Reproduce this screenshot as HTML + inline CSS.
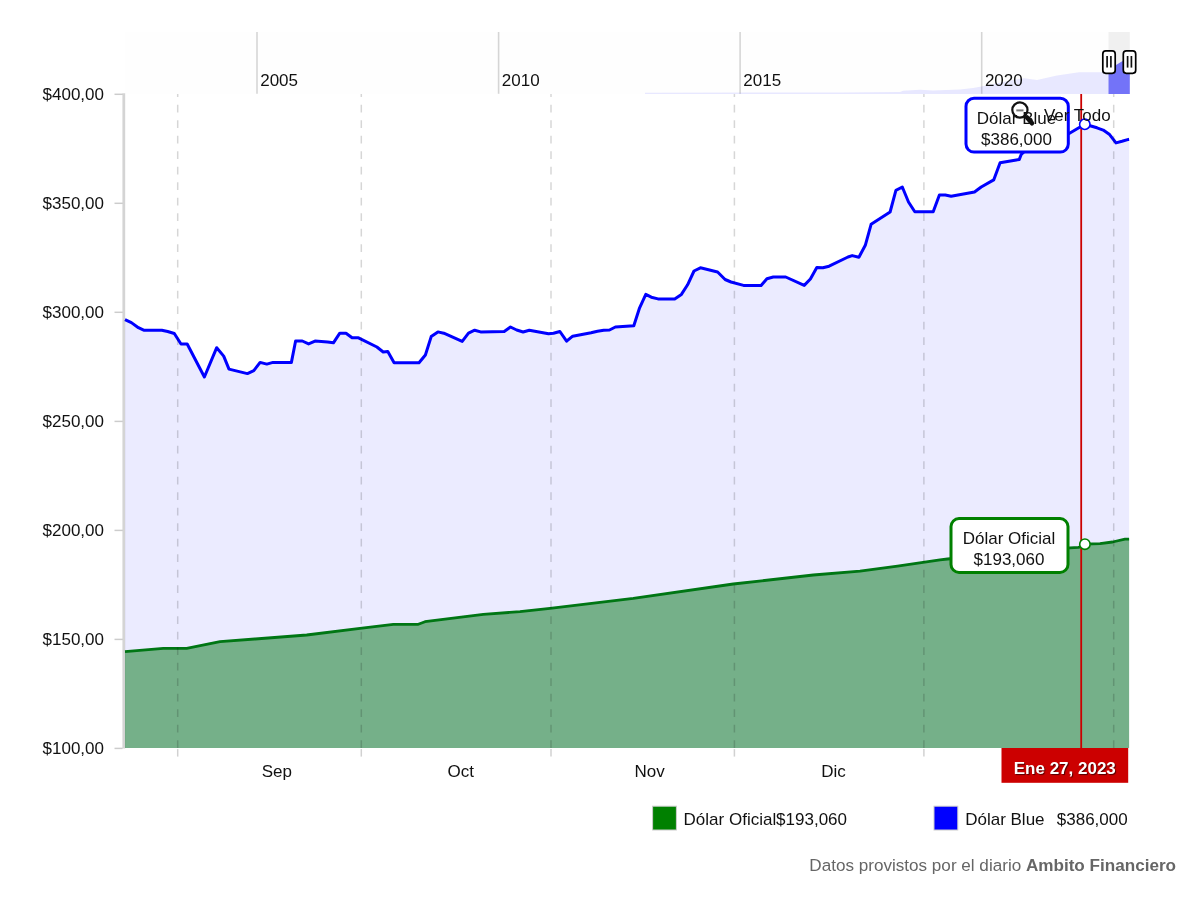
<!DOCTYPE html>
<html><head><meta charset="utf-8"><title>Dólar</title>
<style>
html,body{margin:0;padding:0;background:#fff;}
body{width:1200px;height:897px;overflow:hidden;font-family:"Liberation Sans",sans-serif;}
svg{display:block;position:absolute;left:0;top:0;filter:blur(0.45px);}
svg text{font-family:"Liberation Sans",sans-serif;font-size:17px;fill:#111;}
</style></head><body>
<svg width="1200" height="897" viewBox="0 0 1200 897">
<rect x="0" y="0" width="1200" height="897" fill="#fff"/>
<!-- scrollbar -->
<rect x="125" y="32" width="1004.5" height="61.6" fill="#fefefe"/>
<rect x="1108.5" y="32" width="21.3" height="62" fill="#f0f0f0"/>
<polygon points="645.0,94.0 645.0,92.7 840.0,92.4 900.0,92.0 903.0,90.8 920.0,89.7 933.0,90.4 960.0,89.6 973.0,88.0 981.5,86.4 995.0,83.7 1013.0,80.0 1024.3,78.2 1037.0,80.0 1057.0,75.4 1079.0,72.3 1101.0,72.3 1108.5,70.5 1108.5,94.0" fill="#e8e8ff"/>
<polygon points="1108.5,94.1 1108.5,68.0 1116.0,64.9 1122.2,61.2 1129.8,58.5 1129.8,94.1" fill="#7373f8"/>
<line x1="257.0" y1="32" x2="257.0" y2="93.8" stroke="#000" stroke-opacity="0.16" stroke-width="1.6"/><text x="260.2" y="85.6">2005</text><line x1="498.6" y1="32" x2="498.6" y2="93.8" stroke="#000" stroke-opacity="0.16" stroke-width="1.6"/><text x="501.8" y="85.6">2010</text><line x1="740.1" y1="32" x2="740.1" y2="93.8" stroke="#000" stroke-opacity="0.16" stroke-width="1.6"/><text x="743.3000000000001" y="85.6">2015</text><line x1="981.7" y1="32" x2="981.7" y2="93.8" stroke="#000" stroke-opacity="0.16" stroke-width="1.6"/><text x="984.9000000000001" y="85.6">2020</text>
<!-- fills -->
<polygon points="125.0,651.7 163.3,648.3 186.7,648.3 220.0,641.7 306.7,635.0 360.0,628.3 393.3,624.3 418.3,624.3 425.0,621.7 483.3,614.3 520.0,611.7 550.0,608.3 633.3,598.3 733.3,584.0 813.3,575.0 860.0,571.2 897.5,566.2 940.0,559.8 947.5,559.0 1066.0,548.2 1070.0,547.9 1078.5,547.4 1085.0,544.2 1100.0,543.6 1112.5,542.0 1125.0,539.2 1129.1,539.2 1129.1,748.1 125.0,748.1" fill="#008000" fill-opacity="0.5"/>
<polyline points="125.0,651.7 163.3,648.3 186.7,648.3 220.0,641.7 306.7,635.0 360.0,628.3 393.3,624.3 418.3,624.3 425.0,621.7 483.3,614.3 520.0,611.7 550.0,608.3 633.3,598.3 733.3,584.0 813.3,575.0 860.0,571.2 897.5,566.2 940.0,559.8 947.5,559.0 1066.0,548.2 1070.0,547.9 1078.5,547.4 1085.0,544.2 1100.0,543.6 1112.5,542.0 1125.0,539.2 1129.1,539.2" fill="none" stroke="#008000" stroke-width="2.8" stroke-linejoin="round"/>
<polygon points="125.0,319.6 131.4,322.6 138.4,327.7 143.7,330.2 161.8,330.2 167.7,331.5 174.3,333.5 181.0,344.0 187.2,344.0 204.4,377.0 216.7,347.7 223.7,356.1 229.0,369.1 247.4,373.6 253.8,370.6 260.1,362.4 266.8,364.1 273.0,362.4 291.4,362.4 295.6,341.0 302.3,341.0 308.6,343.9 315.0,341.1 327.6,341.9 333.4,342.8 339.8,333.2 346.0,333.2 352.1,337.8 358.5,337.8 376.9,347.0 383.2,352.0 387.8,351.6 394.1,362.8 419.0,362.8 425.4,355.0 431.2,336.6 437.9,331.9 443.8,333.2 462.2,341.4 468.5,333.1 474.7,330.2 480.6,331.9 504.2,331.5 510.5,327.0 516.7,330.0 523.1,332.0 529.3,330.3 548.5,333.7 553.5,333.3 559.9,331.5 566.6,341.2 572.7,336.2 591.1,332.8 597.5,331.2 603.7,330.3 609.5,330.0 615.4,327.0 633.8,325.7 639.6,307.8 645.8,294.4 651.3,297.2 658.0,298.9 674.7,298.9 681.4,294.4 687.6,284.8 694.0,271.0 700.4,267.8 717.6,272.0 725.1,279.5 731.0,282.0 743.5,285.4 761.1,285.4 766.9,278.7 773.3,277.0 785.7,277.0 804.2,285.4 810.4,279.0 816.8,267.5 822.9,267.8 829.1,266.2 848.0,257.0 852.2,255.6 858.9,257.3 865.3,245.3 871.1,224.3 890.1,212.0 895.9,190.3 902.3,187.0 908.5,202.0 914.8,211.7 933.2,211.7 939.4,195.0 945.3,195.0 951.1,196.2 974.5,192.0 981.2,187.0 993.7,179.9 1000.1,162.7 1019.3,159.4 1021.3,154.3 1025.0,151.0 1031.0,145.0 1037.0,143.0 1055.0,143.0 1062.0,138.0 1067.0,134.8 1084.8,124.2 1097.0,127.8 1103.2,130.1 1109.6,134.6 1116.0,142.9 1122.0,141.3 1128.5,139.4 1129.1,139.3 1129.1,748.1 125.0,748.1" fill="#0000ff" fill-opacity="0.08"/>
<polyline points="125.0,319.6 131.4,322.6 138.4,327.7 143.7,330.2 161.8,330.2 167.7,331.5 174.3,333.5 181.0,344.0 187.2,344.0 204.4,377.0 216.7,347.7 223.7,356.1 229.0,369.1 247.4,373.6 253.8,370.6 260.1,362.4 266.8,364.1 273.0,362.4 291.4,362.4 295.6,341.0 302.3,341.0 308.6,343.9 315.0,341.1 327.6,341.9 333.4,342.8 339.8,333.2 346.0,333.2 352.1,337.8 358.5,337.8 376.9,347.0 383.2,352.0 387.8,351.6 394.1,362.8 419.0,362.8 425.4,355.0 431.2,336.6 437.9,331.9 443.8,333.2 462.2,341.4 468.5,333.1 474.7,330.2 480.6,331.9 504.2,331.5 510.5,327.0 516.7,330.0 523.1,332.0 529.3,330.3 548.5,333.7 553.5,333.3 559.9,331.5 566.6,341.2 572.7,336.2 591.1,332.8 597.5,331.2 603.7,330.3 609.5,330.0 615.4,327.0 633.8,325.7 639.6,307.8 645.8,294.4 651.3,297.2 658.0,298.9 674.7,298.9 681.4,294.4 687.6,284.8 694.0,271.0 700.4,267.8 717.6,272.0 725.1,279.5 731.0,282.0 743.5,285.4 761.1,285.4 766.9,278.7 773.3,277.0 785.7,277.0 804.2,285.4 810.4,279.0 816.8,267.5 822.9,267.8 829.1,266.2 848.0,257.0 852.2,255.6 858.9,257.3 865.3,245.3 871.1,224.3 890.1,212.0 895.9,190.3 902.3,187.0 908.5,202.0 914.8,211.7 933.2,211.7 939.4,195.0 945.3,195.0 951.1,196.2 974.5,192.0 981.2,187.0 993.7,179.9 1000.1,162.7 1019.3,159.4 1021.3,154.3 1025.0,151.0 1031.0,145.0 1037.0,143.0 1055.0,143.0 1062.0,138.0 1067.0,134.8 1084.8,124.2 1097.0,127.8 1103.2,130.1 1109.6,134.6 1116.0,142.9 1122.0,141.3 1128.5,139.4 1129.1,139.3" fill="none" stroke="#0000ff" stroke-width="3" stroke-linejoin="round"/>
<!-- grid -->
<line x1="177.7" y1="748.1" x2="177.7" y2="94.0" stroke="#000" stroke-opacity="0.16" stroke-width="1.5" stroke-dasharray="7.75 7.75"/><line x1="177.7" y1="749.1" x2="177.7" y2="756.6" stroke="#000" stroke-opacity="0.18" stroke-width="1.5"/><line x1="361.3" y1="748.1" x2="361.3" y2="94.0" stroke="#000" stroke-opacity="0.16" stroke-width="1.5" stroke-dasharray="7.75 7.75"/><line x1="361.3" y1="749.1" x2="361.3" y2="756.6" stroke="#000" stroke-opacity="0.18" stroke-width="1.5"/><line x1="551.0" y1="748.1" x2="551.0" y2="94.0" stroke="#000" stroke-opacity="0.16" stroke-width="1.5" stroke-dasharray="7.75 7.75"/><line x1="551.0" y1="749.1" x2="551.0" y2="756.6" stroke="#000" stroke-opacity="0.18" stroke-width="1.5"/><line x1="734.4" y1="748.1" x2="734.4" y2="94.0" stroke="#000" stroke-opacity="0.16" stroke-width="1.5" stroke-dasharray="7.75 7.75"/><line x1="734.4" y1="749.1" x2="734.4" y2="756.6" stroke="#000" stroke-opacity="0.18" stroke-width="1.5"/><line x1="923.9" y1="748.1" x2="923.9" y2="94.0" stroke="#000" stroke-opacity="0.16" stroke-width="1.5" stroke-dasharray="7.75 7.75"/><line x1="923.9" y1="749.1" x2="923.9" y2="756.6" stroke="#000" stroke-opacity="0.18" stroke-width="1.5"/><line x1="1113.7" y1="748.1" x2="1113.7" y2="94.0" stroke="#000" stroke-opacity="0.16" stroke-width="1.5" stroke-dasharray="7.75 7.75"/><line x1="1113.7" y1="749.1" x2="1113.7" y2="756.6" stroke="#000" stroke-opacity="0.18" stroke-width="1.5"/>
<!-- y axis -->
<line x1="123.8" y1="93.2" x2="123.8" y2="748.6" stroke="#000" stroke-opacity="0.17" stroke-width="2.8"/>
<line x1="114.5" y1="94.3" x2="122.5" y2="94.3" stroke="#000" stroke-opacity="0.2" stroke-width="1.5"/><text x="104" y="100.0" text-anchor="end">$400,00</text><line x1="114.5" y1="203.3" x2="122.5" y2="203.3" stroke="#000" stroke-opacity="0.2" stroke-width="1.5"/><text x="104" y="209.0" text-anchor="end">$350,00</text><line x1="114.5" y1="312.3" x2="122.5" y2="312.3" stroke="#000" stroke-opacity="0.2" stroke-width="1.5"/><text x="104" y="318.0" text-anchor="end">$300,00</text><line x1="114.5" y1="421.4" x2="122.5" y2="421.4" stroke="#000" stroke-opacity="0.2" stroke-width="1.5"/><text x="104" y="427.1" text-anchor="end">$250,00</text><line x1="114.5" y1="530.4" x2="122.5" y2="530.4" stroke="#000" stroke-opacity="0.2" stroke-width="1.5"/><text x="104" y="536.1" text-anchor="end">$200,00</text><line x1="114.5" y1="639.4" x2="122.5" y2="639.4" stroke="#000" stroke-opacity="0.2" stroke-width="1.5"/><text x="104" y="645.1" text-anchor="end">$150,00</text><line x1="114.5" y1="748.4" x2="122.5" y2="748.4" stroke="#000" stroke-opacity="0.2" stroke-width="1.5"/><text x="104" y="754.1" text-anchor="end">$100,00</text>
<g text-anchor="middle"><text x="276.9" y="777">Sep</text><text x="460.7" y="777">Oct</text><text x="649.6" y="777">Nov</text><text x="833.5" y="777">Dic</text></g>
<!-- cursor -->
<line x1="1081.2" y1="94" x2="1081.2" y2="748.1" stroke="#cc0000" stroke-width="1.8"/>
<!-- bullets -->
<circle cx="1084.8" cy="124.25" r="5.2" fill="#fff" stroke="#0000ff" stroke-width="1.6"/>
<circle cx="1084.9" cy="544.2" r="5.2" fill="#fff" stroke="#008000" stroke-width="1.6"/>
<!-- balloons -->
<rect x="966" y="98.3" width="102.3" height="53.8" rx="8" fill="#fff" stroke="#0000ff" stroke-width="3"/>
<g text-anchor="middle"><text x="1016.5" y="123.5">Dólar Blue</text><text x="1016.5" y="144.5">$386,000</text></g>
<rect x="951" y="518.6" width="117" height="53.8" rx="8" fill="#fff" stroke="#008000" stroke-width="3"/>
<g text-anchor="middle"><text x="1009" y="543.8">Dólar Oficial</text><text x="1009" y="564.8">$193,060</text></g>
<!-- zoom out -->
<circle cx="1019.9" cy="110.0" r="7.6" fill="none" stroke="#111" stroke-width="2.2"/>
<line x1="1016.3" y1="110.4" x2="1023.5" y2="110.4" stroke="#777" stroke-width="2"/>
<line x1="1027" y1="117.5" x2="1032" y2="123.3" stroke="#111" stroke-width="4.5" stroke-linecap="round"/>
<text x="1043.9" y="120.7">Ver Todo</text>
<!-- grips -->
<rect x="1102.8" y="50.9" width="12.4" height="22.4" rx="3" fill="#fff" stroke="#000" stroke-width="1.7"/><line x1="1107.1" y1="56" x2="1107.1" y2="67.6" stroke="#111" stroke-width="1.7"/><line x1="1110.9" y1="56" x2="1110.9" y2="67.6" stroke="#111" stroke-width="1.7"/><rect x="1123.3" y="50.9" width="12.4" height="22.4" rx="3" fill="#fff" stroke="#000" stroke-width="1.7"/><line x1="1127.6" y1="56" x2="1127.6" y2="67.6" stroke="#111" stroke-width="1.7"/><line x1="1131.4" y1="56" x2="1131.4" y2="67.6" stroke="#111" stroke-width="1.7"/>
<!-- cursor label -->
<rect x="1001.5" y="748" width="126.7" height="34.8" fill="#cc0000"/>
<text x="1064.8" y="774.2" text-anchor="middle" style="font-weight:bold;fill:#fff;text-shadow:1px 1px 1px rgba(0,0,0,0.6)">Ene 27, 2023</text>
<!-- legend -->
<rect x="652.6" y="806.2" width="23.8" height="23.8" fill="#008000" stroke="#ccc" stroke-width="1"/>
<text x="683.6" y="825">Dólar Oficial</text>
<text x="847" y="825" text-anchor="end">$193,060</text>
<rect x="934" y="806.2" width="23.8" height="23.8" fill="#0000ff" stroke="#ccc" stroke-width="1"/>
<text x="965.2" y="825">Dólar Blue</text>
<text x="1127.7" y="825" text-anchor="end">$386,000</text>
<!-- footer -->
<text x="1176" y="871" text-anchor="end" style="font-size:17.1px;fill:#666">Datos provistos por el diario <tspan style="font-weight:bold">Ambito Financiero</tspan></text>
</svg>
</body></html>
